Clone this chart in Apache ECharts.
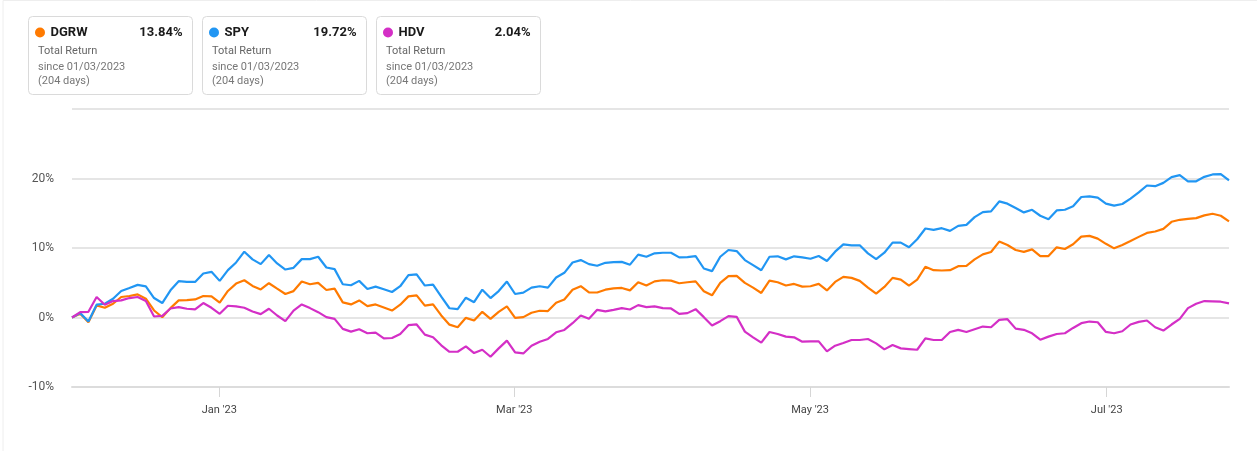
<!DOCTYPE html>
<html>
<head>
<meta charset="utf-8">
<title>DGRW vs SPY vs HDV</title>
<script src="https://cdn.jsdelivr.net/npm/echarts@6/dist/echarts.min.js"></script>
<style>
  html, body { margin: 0; padding: 0; background: #fff; }
  #main { width: 1257px; height: 451px; }
</style>
</head>
<body>
<div id="main"></div>
<script>
// total return in %, one point per sample
var dgrw = [0, 0.53, -0.68, 1.74, 1.4, 1.98, 2.95, 3.09, 3.33, 2.7, 1.01, 0.05, 1.35, 2.46, 2.51, 2.6, 3.09, 3.04, 2.13, 3.82,
    4.88, 5.36, 4.54, 4.03, 4.93, 4.15, 3.38, 3.8, 5.17, 4.78, 4.98, 3.96, 4.15, 2.17, 1.88, 2.46, 1.64, 1.88, 1.45, 1.0,
    1.84, 3.04, 3.19, 1.7, 1.88, 0.3, -1.03, -1.4, -0.05, -0.43, 0.82, -0.19, 0.82, 1.6, -0.05, 0.05, 0.68, 0.97, 0.92, 2.13,
    2.6, 4.0, 4.5, 3.6, 3.6, 4.0, 4.2, 4.25, 3.9, 5.08, 4.6, 5.2, 5.36, 5.3, 4.93, 5.07, 5.2, 3.77, 3.19, 4.98,
    5.94, 6.0, 4.98, 4.3, 3.53, 5.3, 5.07, 4.6, 4.83, 4.44, 4.5, 4.83, 3.9, 5.12, 5.85, 5.7, 5.27, 4.3, 3.43, 4.4,
    5.7, 5.46, 4.6, 5.46, 7.3, 6.81, 6.76, 6.81, 7.39, 7.44, 8.36, 9.08, 9.42, 10.92, 10.43, 9.71, 9.45, 9.8, 8.84, 8.84,
    10.1, 9.86, 10.53, 11.64, 11.74, 11.35, 10.6, 9.95, 10.43, 11.0, 11.6, 12.17, 12.37, 12.75, 13.77, 14.06, 14.2, 14.3, 14.69, 14.93,
    14.64, 13.84];
var spy = [0, 0.63, -0.58, 1.84, 1.98, 2.7, 3.82, 4.25, 4.69, 4.49, 2.8, 2.08, 3.91, 5.22, 5.12, 5.12, 6.33, 6.57, 5.27, 6.81,
    7.92, 9.47, 8.36, 7.68, 8.99, 7.78, 6.9, 7.15, 8.4, 8.4, 8.74, 7.2, 6.96, 4.78, 4.64, 5.27, 4.1, 4.44, 4.06, 3.67,
    4.5, 6.1, 6.2, 4.6, 4.73, 3.0, 1.33, 1.2, 2.85, 2.2, 4.0, 2.8, 3.8, 5.17, 3.38, 3.57, 4.3, 4.5, 4.3, 5.75,
    6.43, 7.92, 8.26, 7.68, 7.44, 7.87, 7.97, 8.0, 7.6, 9.05, 8.74, 9.23, 9.32, 9.32, 8.65, 8.7, 8.84, 7.05, 6.67, 8.74,
    9.71, 9.56, 8.26, 7.54, 6.8, 8.74, 8.8, 8.36, 8.8, 8.65, 8.45, 8.84, 8.13, 9.47, 10.53, 10.39, 10.39, 9.23, 8.4, 9.32,
    10.77, 10.77, 10.1, 11.26, 12.8, 12.6, 12.85, 12.46, 13.19, 13.33, 14.44, 15.17, 15.27, 16.7, 16.38, 15.75, 15.12, 15.5, 14.64, 14.15,
    15.41, 15.5, 16.0, 17.34, 17.44, 17.25, 16.38, 16.09, 16.33, 17.1, 18.0, 18.99, 18.89, 19.37, 20.19, 20.48, 19.6, 19.6, 20.24, 20.58,
    20.63, 19.72];
var hdv = [0, 0.77, 0.82, 2.95, 1.84, 2.37, 2.46, 2.8, 2.95, 2.37, 0.14, 0.24, 1.3, 1.5, 1.26, 1.16, 2.08, 1.4, 0.53, 1.69,
    1.59, 1.4, 0.87, 0.48, 1.26, 0.29, -0.53, 1.0, 1.88, 1.35, 0.77, 0.05, -0.19, -1.64, -2.03, -1.69, -2.27, -2.17, -3.0, -2.95,
    -2.37, -1.11, -1.0, -2.46, -2.85, -4.0, -4.93, -4.93, -4.15, -5.12, -4.64, -5.65, -4.44, -3.33, -5.02, -5.17, -4.06, -3.48, -3.09, -2.13,
    -1.79, -0.82, 0.29, -0.19, 1.1, 0.87, 1.1, 1.35, 1.15, 1.78, 1.5, 1.6, 1.35, 1.3, 0.53, 0.63, 1.2, 0.05, -1.16, -0.53,
    0.19, 0.1, -2.03, -2.85, -3.62, -2.08, -2.37, -2.75, -2.85, -3.48, -3.43, -3.43, -4.88, -4.06, -3.67, -3.24, -3.24, -3.09, -3.72, -4.59,
    -3.96, -4.44, -4.54, -4.64, -3.0, -3.24, -3.24, -2.08, -1.79, -2.08, -1.69, -1.3, -1.4, -0.34, -0.24, -1.6, -1.77, -2.27, -3.19, -2.75,
    -2.37, -2.27, -1.5, -0.82, -0.58, -0.68, -2.08, -2.27, -1.98, -1.01, -0.63, -0.43, -1.4, -1.88, -1.01, -0.19, 1.35, 1.98, 2.37, 2.32,
    2.27, 2.04];

// month ticks (position in samples) and their labels
var tickPositions = [17.95, 53.9, 89.95, 126.1];
var tickLabels = ["Jan '23", "Mar '23", "May '23", "Jul '23"];

// legend cards
var tickers = ['DGRW', 'SPY', 'HDV'];
var totalReturns = ['13.84%', '19.72%', '2.04%'];
var colors = ['#ff7a00', '#2196f3', '#d42fc6'];

function toPairs(arr) {
    return arr.map(function (v, i) { return [i, v]; });
}

var cards = [];
tickers.forEach(function (name, k) {
    var left = 28 + k * 174;
    cards.push({
        type: 'group', left: left, top: 16,
        children: [
            { type: 'rect', shape: { x: 0, y: 0, width: 164, height: 78, r: 4 },
              style: { fill: '#fff', stroke: '#dadada', lineWidth: 1 } },
            { type: 'circle', shape: { cx: 11.5, cy: 16, r: 5 }, style: { fill: colors[k] } },
            { type: 'text', x: 22, y: 16,
              style: { text: name, fill: '#1a1a1a', font: 'bold 13px Roboto', verticalAlign: 'middle' } },
            { type: 'text', x: 154, y: 16,
              style: { text: totalReturns[k], fill: '#1a1a1a', font: 'bold 13px Roboto', align: 'right', verticalAlign: 'middle' } },
            { type: 'text', x: 9.5, y: 34.5,
              style: { text: 'Total Return', fill: '#666', font: '11px Roboto', verticalAlign: 'middle' } },
            { type: 'text', x: 9.5, y: 51,
              style: { text: 'since 01/03/2023', fill: '#777', font: '11px Roboto', verticalAlign: 'middle' } },
            { type: 'text', x: 9.5, y: 64.5,
              style: { text: '(204 days)', fill: '#777', font: '11px Roboto', verticalAlign: 'middle' } }
        ]
    });
});
// light frame of the widget
cards.push({
    type: 'rect', left: 0.5, top: -2,
    shape: { x: 0, y: 0, width: 1300, height: 452 },
    style: { fill: 'none', stroke: '#eeeeee', lineWidth: 1 }
});

var chart = echarts.init(document.getElementById('main'));
var option = {
    animation: false,
    textStyle: { fontFamily: 'Roboto' },
    graphic: cards,
    grid: { left: 72, right: 28, top: 109, bottom: 64 },
    xAxis: {
        type: 'value',
        min: 0,
        max: dgrw.length - 1,
        splitLine: { show: false },
        axisLine: { show: true, onZero: false, lineStyle: { color: '#dcdcdc', width: 2 } },
        axisTick: { show: true, customValues: tickPositions, length: 10, lineStyle: { color: '#d6d6d6' } },
        axisLabel: {
            customValues: tickPositions,
            color: '#444',
            fontSize: 11,
            margin: 18,
            formatter: function (v) {
                var idx = tickPositions.indexOf(v);
                return idx >= 0 ? tickLabels[idx] : '';
            }
        }
    },
    yAxis: {
        type: 'value',
        min: -10,
        max: 30,
        interval: 10,
        axisLine: { show: false },
        axisTick: { show: false },
        splitLine: { lineStyle: { color: '#dddddd', width: 1.5 } },
        axisLabel: {
            color: '#555',
            fontSize: 12,
            margin: 18,
            formatter: function (v) { return v === 30 ? '' : v + '%'; }
        }
    },
    series: [
        { name: 'DGRW', type: 'line', data: toPairs(dgrw), showSymbol: false,
          lineStyle: { color: colors[0], width: 2.2 }, itemStyle: { color: colors[0] } },
        { name: 'SPY', type: 'line', data: toPairs(spy), showSymbol: false,
          lineStyle: { color: colors[1], width: 2.2 }, itemStyle: { color: colors[1] } },
        { name: 'HDV', type: 'line', data: toPairs(hdv), showSymbol: false,
          lineStyle: { color: colors[2], width: 2.2 }, itemStyle: { color: colors[2] } }
    ]
};
chart.setOption(option);
</script>
</body>
</html>
